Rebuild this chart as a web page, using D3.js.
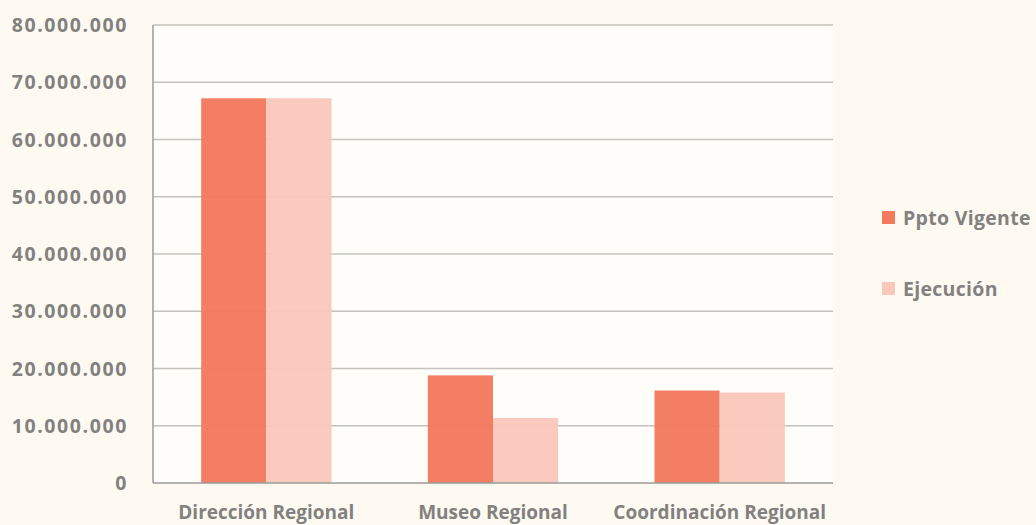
<!DOCTYPE html>
<html>
<head>
<meta charset="utf-8">
<style>
    body { margin: 0; background: #fefaf2; }
    text { font-family: "Open Sans", sans-serif; font-weight: 700; fill: #828180; }
    .grid line { stroke: #c4c2bd; stroke-width: 1.3; }
</style>
</head>
<body>
<svg id="chart" width="1036" height="525"></svg>
<script src="https://cdnjs.cloudflare.com/ajax/libs/d3/7.8.5/d3.min.js"></script>
<script>
    // data
    const categories = ["Dirección Regional", "Museo Regional", "Coordinación Regional"];
    const seriesNames = ["Ppto Vigente", "Ejecución"];
    const pptoVigente = [67200000, 18800000, 16150000];
    const ejecucion = [67200000, 11350000, 15800000];
    const yTicks = [0, 10000000, 20000000, 30000000, 40000000, 50000000, 60000000, 70000000, 80000000];
    const colors = ["#f47a5f", "#f9c8bb"];

    let svg = d3.select("#chart");
    let plotLeft = 153, plotRight = 833, plotTop = 25, plotBottom = 483;

    let rows = categories.map((c, i) => ({name: c, values: [pptoVigente[i], ejecucion[i]]}));

    let yScale = d3.scaleLinear().domain([0, 80000000]).range([plotBottom, plotTop]);
    let xScale = d3.scaleBand()
        .domain(categories)
        .range([plotLeft, plotRight])
        .paddingInner(0.425)
        .paddingOuter(0.2125);
    let xInner = d3.scaleBand().domain(seriesNames).range([0, xScale.bandwidth()]);

    // plot area slightly lighter than the page
    svg.append("rect")
        .attr("x", plotLeft).attr("y", plotTop)
        .attr("width", plotRight - plotLeft).attr("height", plotBottom - plotTop)
        .attr("fill", "#fffdf9");

    // gridlines
    svg.append("g").attr("class", "grid")
        .selectAll("line")
        .data(yTicks.filter((d) => d > 0))
        .enter().append("line")
        .attr("x1", plotLeft).attr("x2", plotRight)
        .attr("y1", (d) => yScale(d)).attr("y2", (d) => yScale(d));

    // bars
    let groups = svg.selectAll(".cat")
        .data(rows)
        .enter().append("g")
        .attr("transform", (d) => "translate(" + xScale(d.name) + ",0)");
    groups.selectAll("rect")
        .data((d) => d.values.map((v, i) => ({key: seriesNames[i], value: v, i: i})))
        .enter().append("rect")
        .attr("x", (d) => xInner(d.key))
        .attr("width", xInner.bandwidth())
        .attr("y", (d) => yScale(d.value))
        .attr("height", (d) => plotBottom - yScale(d.value))
        .attr("fill", (d) => colors[d.i])
        .attr("opacity", 0.97);

    // axis lines
    svg.append("line")
        .attr("x1", plotLeft).attr("x2", plotLeft).attr("y1", plotTop).attr("y2", plotBottom)
        .attr("stroke", "#9c9b98").attr("stroke-width", 1.5);
    svg.append("line")
        .attr("x1", plotLeft).attr("x2", plotRight).attr("y1", plotBottom).attr("y2", plotBottom)
        .attr("stroke", "#9c9b98").attr("stroke-width", 1.5);

    // y tick labels (dot thousands separator)
    let fmt = d3.formatLocale({decimal: ",", thousands: ".", grouping: [3], currency: ["$", ""]}).format(",d");
    svg.append("g").selectAll("text")
        .data(yTicks)
        .enter().append("text")
        .attr("x", 128)
        .attr("y", (d) => yScale(d) + 7)
        .attr("text-anchor", "end")
        .style("font-size", "19.5px")
        .style("letter-spacing", "1.6px")
        .text((d) => fmt(d));

    // category labels
    svg.append("g").selectAll("text")
        .data(categories)
        .enter().append("text")
        .attr("x", (d) => xScale(d) + xScale.bandwidth() / 2)
        .attr("y", 519)
        .attr("text-anchor", "middle")
        .style("font-size", "19px")
        .text((d) => d);

    // legend
    let legend = svg.append("g").selectAll("g")
        .data(seriesNames)
        .enter().append("g")
        .attr("transform", (d, i) => "translate(882," + (211 + i * 71) + ")");
    legend.append("rect")
        .attr("width", 13).attr("height", 13)
        .attr("fill", (d, i) => colors[i]);
    legend.append("text")
        .attr("x", 21).attr("y", 14)
        .style("font-size", "19.5px")
        .style("letter-spacing", "0.3px")
        .text((d) => d);
</script>
</body>
</html>
